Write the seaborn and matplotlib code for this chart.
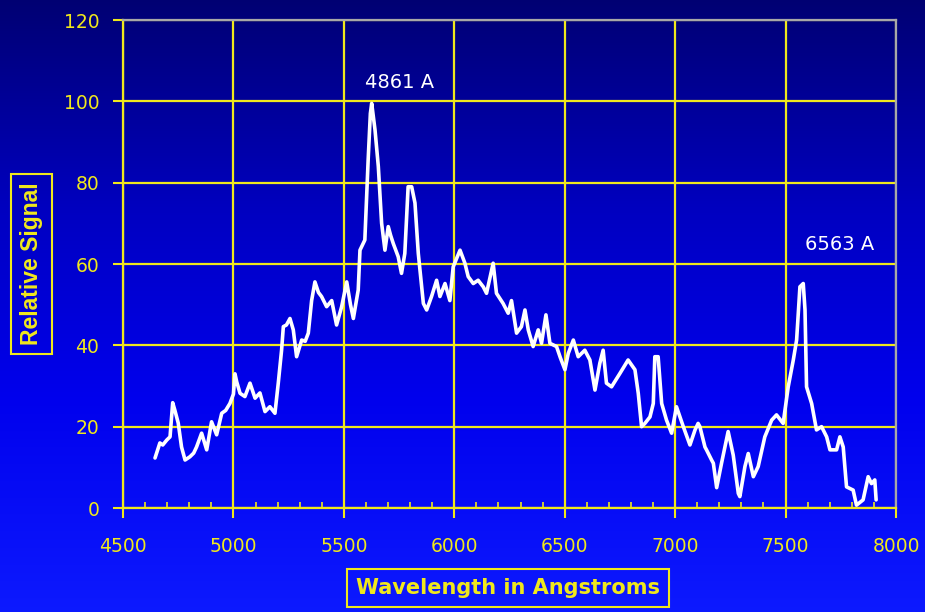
import numpy as np
import pandas as pd
import matplotlib
matplotlib.use("Agg")
import matplotlib.pyplot as plt
from matplotlib.ticker import MultipleLocator
import seaborn as sns

# ---- data ----
wavelength = [4645, 4655, 4667, 4680, 4698, 4713, 4725, 4735, 4750, 4765, 4781, 4803, 4820,
              4833, 4856, 4879, 4901, 4924, 4947, 4965, 4984, 5000, 5007, 5015, 5030, 5052,
              5075, 5098, 5120, 5143, 5165, 5188, 5203, 5218, 5226, 5240, 5256, 5271, 5286,
              5309, 5325, 5339, 5354, 5369, 5385, 5399, 5422, 5445, 5467, 5490, 5513, 5530,
              5543, 5565, 5573, 5595, 5610, 5620, 5626, 5641, 5656, 5671, 5686, 5701, 5712,
              5724, 5746, 5761, 5776, 5791, 5807, 5822, 5837, 5860, 5875, 5897, 5920, 5935,
              5958, 5980, 5995, 6026, 6048, 6063, 6086, 6108, 6131, 6146, 6176, 6191, 6221,
              6244, 6259, 6282, 6304, 6320, 6335, 6357, 6380, 6395, 6415, 6433, 6463, 6480,
              6501, 6516, 6539, 6561, 6591, 6614, 6637, 6659, 6674, 6689, 6712, 6750, 6787,
              6818, 6833, 6848, 6863, 6886, 6901, 6908, 6923, 6939, 6961, 6984, 7006, 7037,
              7067, 7090, 7104, 7112, 7135, 7142, 7165, 7173, 7188, 7210, 7240, 7263, 7286,
              7293, 7316, 7331, 7354, 7376, 7406, 7437, 7459, 7489, 7512, 7535, 7550, 7565,
              7580, 7588, 7595, 7618, 7640, 7663, 7686, 7701, 7731, 7746, 7761, 7776, 7806,
              7821, 7851, 7874, 7889, 7904, 7910]
signal = [12.3, 14, 16, 15.5, 16.7, 17.5, 25.9, 24, 20.9, 15, 11.8, 12.6, 13.5,
          15, 18.4, 14.3, 21.2, 18, 23.3, 24, 25.7, 28, 33, 31, 28.2, 27.4,
          30.7, 27, 28.3, 23.7, 24.9, 23.3, 30.7, 38.8, 44.6, 45, 46.6, 43.8, 37.2,
          41.3, 41, 43, 51, 55.6, 53, 52, 49.5, 51, 45, 49.5, 55.6, 50,
          46.6, 53.6, 63.4, 65.9, 85.6, 97, 99.5, 93, 84, 70, 63.4, 69.2, 67,
          65, 61.8, 57.7, 62.6, 79, 79, 75, 62.6, 50.3, 48.7, 52, 56, 52,
          55.2, 51, 59.3, 63.4, 60.2, 56.9, 55.2, 56, 54.4, 52.8, 60.2, 52.8, 50.3,
          47.9, 51, 43, 44.6, 48.7, 43.8, 39.7, 43.8, 40.5, 47.5, 40.5, 39.7, 37,
          34, 38, 41.3, 37.2, 38.8, 36.4, 29, 35.6, 38.8, 30.7, 29.8, 33.1, 36.4,
          34, 28.2, 20, 20.8, 22.4, 25.7, 37.2, 37.2, 25.7, 21.6, 18.4, 24.9, 20,
          15.5, 19.2, 20.8, 20, 15, 14.3, 11.8, 11, 5, 11, 18.8, 13, 3.6,
          2.8, 10.2, 13.4, 7.7, 10.2, 17.5, 21.6, 22.9, 20.8, 29.8, 36.4, 41.3, 54.4,
          55.2, 48.7, 29.8, 25.7, 19.2, 20, 17.5, 14.3, 14.3, 17.5, 15, 5.2, 4.4,
          0.7, 2, 7.7, 6, 6.9, 2]

x_ticks = [4500, 5000, 5500, 6000, 6500, 7000, 7500, 8000]
y_ticks = [0, 20, 40, 60, 80, 100, 120]
peak_labels = ["4861 A", "6563 A"]
peak_label_pos = [(5754, 104.7), (7746, 64.7)]
x_label = "Wavelength in Angstroms"
y_label = "Relative Signal"

df = pd.DataFrame({"wavelength": wavelength, "signal": signal})

# ---- styling ----
sns.set_style("ticks")
plt.rcParams["font.family"] = ["DejaVu Sans"]

YEL = "#f0e81c"
GRAY = "#a8a8a8"

W, H = 925, 612
fig = plt.figure(figsize=(W / 100, H / 100), dpi=100)

# gradient background (dark navy at top -> bright blue at bottom)
bg = fig.add_axes([0, 0, 1, 1], zorder=-10)
stops_t = [0.0, 0.35, 0.65, 1.0]
stops_c = np.array([[0.0, 0.0, 0.45],
                    [0.0, 0.0, 0.76],
                    [0.0, 0.0, 0.93],
                    [0.05, 0.10, 1.0]])
tt = np.linspace(0, 1, 256)
grad = np.stack([np.interp(tt, stops_t, stops_c[:, k]) for k in range(3)], axis=1)[:, None, :]
bg.imshow(grad, aspect="auto", extent=[0, 1, 0, 1], origin="upper")
bg.set_axis_off()

ax = fig.add_axes([123 / W, 1 - 508 / H, (896 - 123) / W, (508 - 20) / H])
ax.set_facecolor("none")

sns.lineplot(data=df, x="wavelength", y="signal", ax=ax, color="white",
             lw=2.6, sort=False, estimator=None, zorder=3)

ax.set_xlim(4500, 8000)
ax.set_ylim(0, 120)
ax.set_xticks(x_ticks)
ax.set_yticks(y_ticks)
ax.xaxis.set_minor_locator(MultipleLocator(100))
ax.set_axisbelow(True)
ax.grid(True, which="major", color=YEL, lw=1.6)

ax.tick_params(axis="both", which="major", colors=YEL, labelcolor=YEL,
               labelsize=13.5, direction="out", length=7, width=1.5)
ax.tick_params(axis="x", which="major", pad=14)
ax.tick_params(axis="y", which="major", pad=10)
ax.tick_params(axis="x", which="minor", colors=YEL, direction="in", length=4, width=1.2)
ax.tick_params(axis="y", which="minor", left=False)

for s in ["left", "bottom"]:
    ax.spines[s].set_color(YEL)
    ax.spines[s].set_linewidth(1.6)
for s in ["top", "right"]:
    ax.spines[s].set_visible(True)
    ax.spines[s].set_color(GRAY)
    ax.spines[s].set_linewidth(1.6)

ax.set_xlabel("")
ax.set_ylabel("")

for txt, (px, py) in zip(peak_labels, peak_label_pos):
    ax.text(px, py, txt, color="white", fontsize=14, ha="center", va="center")

fig.text(508 / W, 1 - 588 / H, x_label, color=YEL, fontsize=15, fontweight="bold",
         ha="center", va="center",
         bbox=dict(boxstyle="square,pad=0.45", fc="none", ec=YEL, lw=1.5))
fig.text(31.5 / W, 1 - 264 / H, y_label, color=YEL, fontsize=16.5, fontweight="bold",
         family="Liberation Sans", ha="center", va="center", rotation=90,
         bbox=dict(boxstyle="square,pad=0.4", fc="none", ec=YEL, lw=1.5))

fig.savefig("out.png", dpi=100)
